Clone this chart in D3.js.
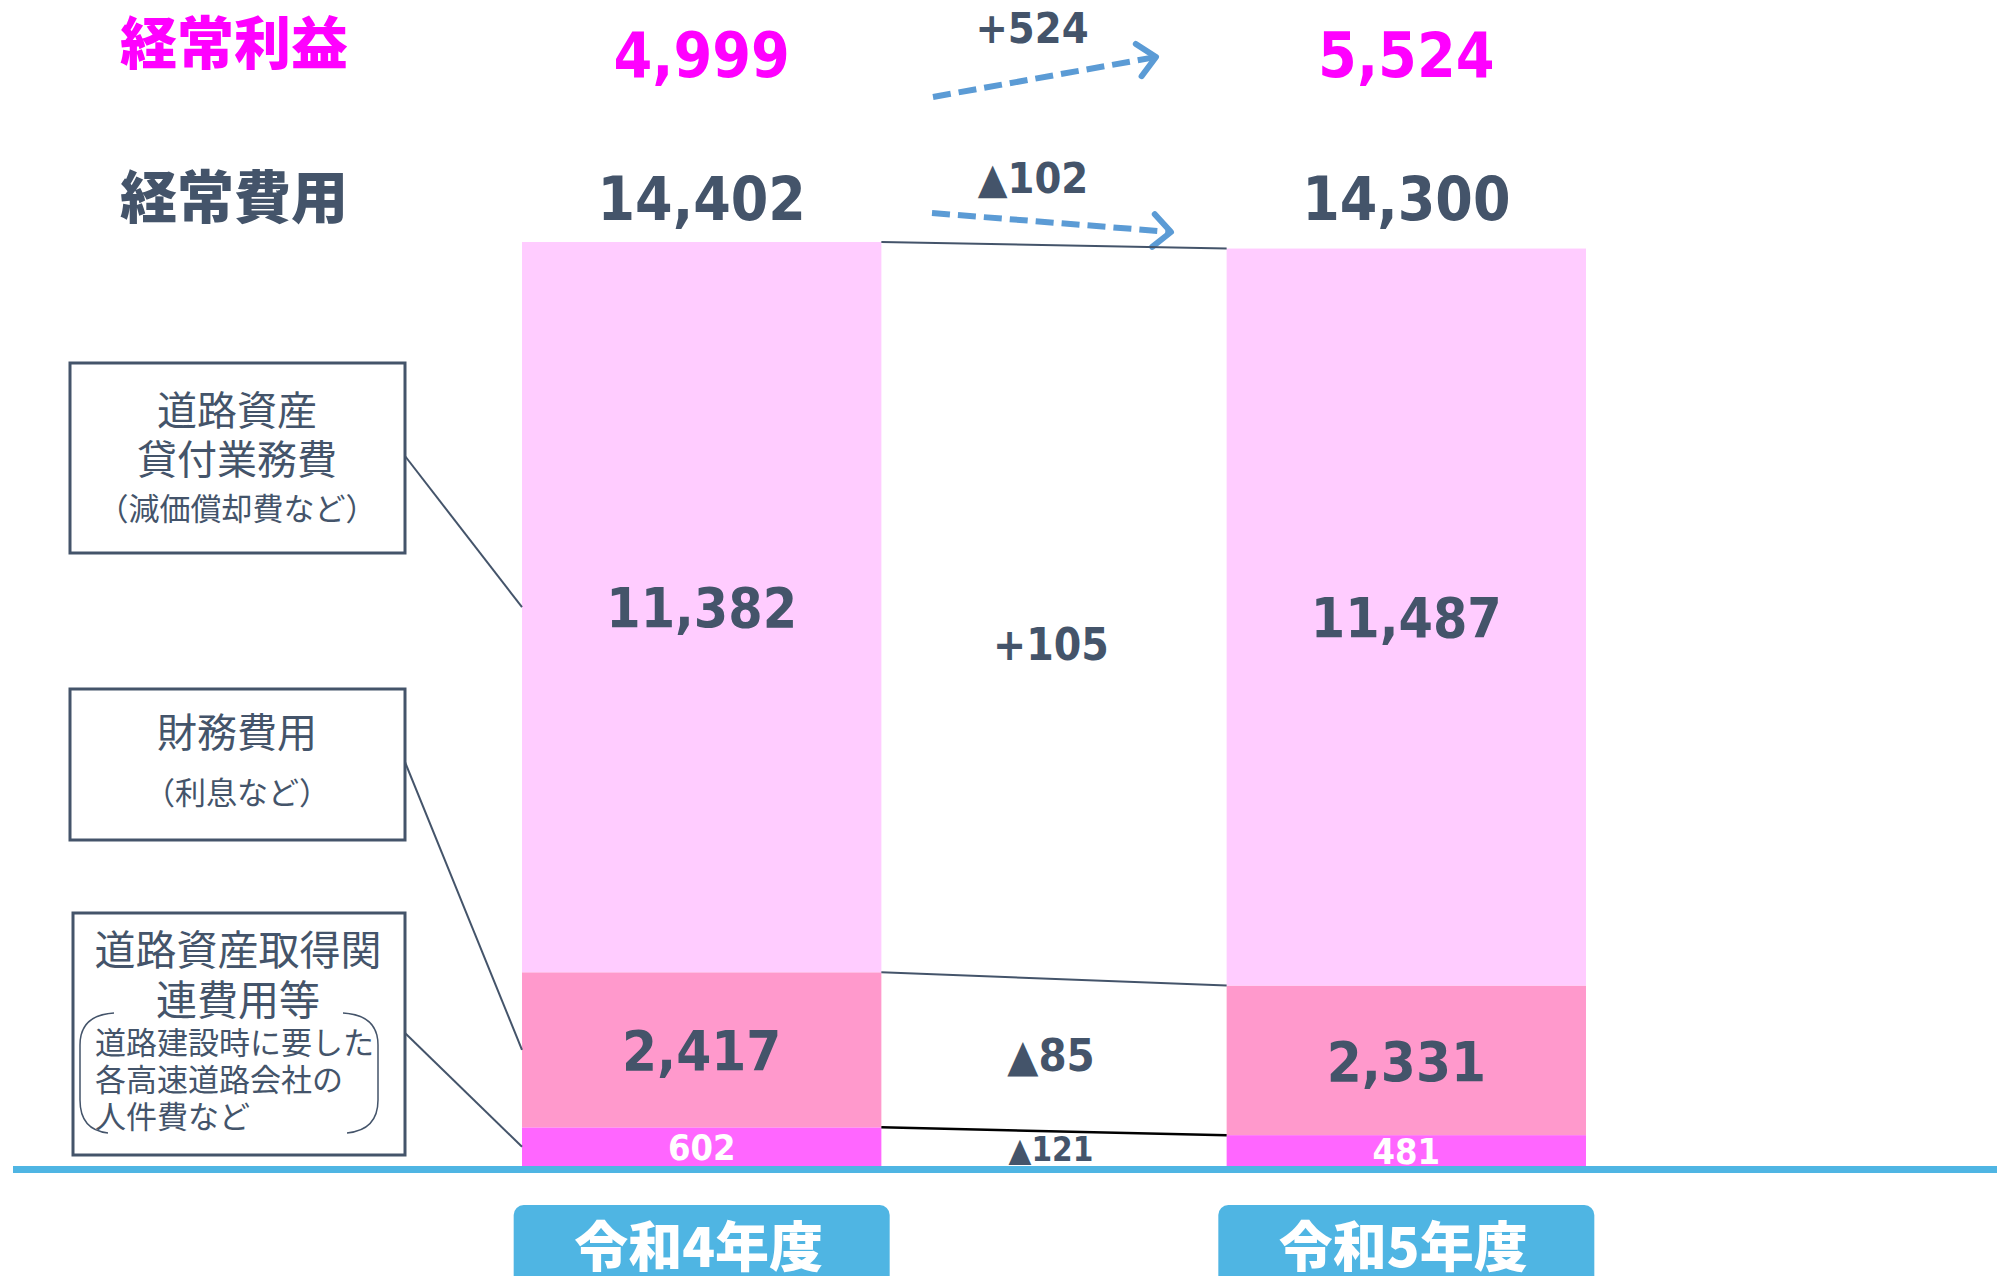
<!DOCTYPE html>
<html lang="ja">
<head>
  <meta charset="UTF-8">
  <title>経常費用の内訳 - D3</title>
  <script src="https://d3js.org/d3.v7.min.js"></script>
  <style>
    body {
      margin: 0;
      background-color: #ffffff;
    }

    .num {
      font-family: "DejaVu Sans Condensed", "DejaVu Sans", sans-serif;
      font-stretch: condensed;
      font-weight: bold;
      text-anchor: middle;
    }

    .jp {
      font-family: "Noto Sans CJK JP", "Noto Sans", sans-serif;
      text-anchor: middle;
      dominant-baseline: central;
    }

    .note {
      fill: #44546A;
    }
  </style>
</head>
<body>
  <script>
    // データ
    var years = ["令和4年度", "令和5年度"];
    var keys = ["acquisition", "financial", "leasing"];   // 下から上へ
    var acquisition = [602, 481];        // 道路資産取得関連費用等
    var financial = [2417, 2331];        // 財務費用
    var leasing = [11382, 11487];        // 道路資産貸付業務費
    var ordinaryExpenses = [14402, 14300];
    var ordinaryProfit = [4999, 5524];
    var segmentChanges = [-121, -85, 105];   // keys と同じ順
    var expenseChange = -102;
    var profitChange = 524;

    var slate = "#44546A",
        magenta = "#FF00FF",
        blue = "#4FB5E3",
        arrowBlue = "#5B9BD5";
    var colors = { acquisition: "#FF66FF", financial: "#FF99CC", leasing: "#FFCCFF" };

    var width = 1997, height = 1276;
    var baseY = 1166, topY = 242;

    var rows = years.map((y, i) => ({
      year: y,
      acquisition: acquisition[i],
      financial: financial[i],
      leasing: leasing[i]
    }));

    var stack = d3.stack().keys(keys)(rows);

    var x = d3.scaleBand().domain(years).range([522, 1586]).paddingInner(0.49).paddingOuter(0);
    var y = d3.scaleLinear()
              .domain([0, d3.max(rows, d => d.acquisition + d.financial + d.leasing)])
              .range([baseY, topY]);

    var fmt = d3.format(",");
    var fmtChange = v => v < 0 ? "▲" + fmt(-v) : "+" + fmt(v);

    var svg = d3.select("body")
                .append("svg")
                .attr("width", width)
                .attr("height", height);

    var cx = i => x(years[i]) + x.bandwidth() / 2;
    var gapX = (x(years[0]) + x.bandwidth() + x(years[1])) / 2;

    // 見出し
    svg.append("text").attr("class", "jp")
       .attr("x", 234).attr("y", 39)
       .attr("font-size", 57).attr("font-weight", 900)
       .attr("fill", magenta)
       .text("経常利益");

    svg.append("text").attr("class", "jp")
       .attr("x", 234).attr("y", 193)
       .attr("font-size", 57).attr("font-weight", 900)
       .attr("fill", slate)
       .text("経常費用");

    // 経常利益・経常費用の数値
    svg.selectAll(".profit")
       .data(ordinaryProfit)
       .enter()
       .append("text")
       .attr("class", "num profit")
       .attr("x", (d, i) => cx(i))
       .attr("y", 77)
       .attr("font-size", 62)
       .attr("fill", magenta)
       .text(d => fmt(d));

    svg.selectAll(".expense")
       .data(ordinaryExpenses)
       .enter()
       .append("text")
       .attr("class", "num expense")
       .attr("x", (d, i) => cx(i))
       .attr("y", 220)
       .attr("font-size", 60)
       .attr("fill", slate)
       .text(d => fmt(d));

    svg.append("text").attr("class", "num")
       .attr("x", 1032).attr("y", 43)
       .attr("font-size", 43).attr("fill", slate)
       .text(fmtChange(profitChange));

    svg.append("text").attr("class", "num")
       .attr("x", 1033).attr("y", 193)
       .attr("font-size", 43).attr("fill", slate)
       .text(fmtChange(expenseChange));

    // 破線の矢印
    function dashedArrow(x1, y1, x2, y2) {
      svg.append("line")
         .attr("x1", x1).attr("y1", y1)
         .attr("x2", x2).attr("y2", y2)
         .attr("stroke", arrowBlue)
         .attr("stroke-width", 6)
         .attr("stroke-dasharray", "18 8");
      var a = Math.atan2(y2 - y1, x2 - x1), len = 24, spread = 0.75;
      svg.append("path")
         .attr("d", `M${x2 - len * Math.cos(a - spread)},${y2 - len * Math.sin(a - spread)}L${x2},${y2}L${x2 - len * Math.cos(a + spread)},${y2 - len * Math.sin(a + spread)}`)
         .attr("fill", "none")
         .attr("stroke", arrowBlue)
         .attr("stroke-width", 6)
         .attr("stroke-linecap", "round")
         .attr("stroke-linejoin", "round");
    }
    dashedArrow(933, 97, 1156, 57);
    dashedArrow(932, 213, 1171, 232);

    // 積み上げ棒
    var layers = svg.selectAll(".layer")
                    .data(stack)
                    .enter()
                    .append("g")
                    .attr("class", "layer")
                    .attr("fill", d => colors[d.key]);

    layers.selectAll("rect")
          .data(d => d)
          .enter()
          .append("rect")
          .attr("x", d => x(d.data.year))
          .attr("width", x.bandwidth())
          .attr("y", d => y(d[1]))
          .attr("height", d => y(d[0]) - y(d[1]));

    // 棒の間の連結線
    stack.forEach(function(layer, k) {
      svg.append("line")
         .attr("x1", x(years[0]) + x.bandwidth())
         .attr("y1", y(layer[0][1]))
         .attr("x2", x(years[1]))
         .attr("y2", y(layer[1][1]))
         .attr("stroke", k === 0 ? "#000000" : slate)
         .attr("stroke-width", k === 0 ? 2.5 : 2);
    });

    // 棒の中の数値
    var labelStyle = {
      acquisition: { size: 36, fill: "#ffffff" },
      financial: { size: 56, fill: slate },
      leasing: { size: 55, fill: slate }
    };

    stack.forEach(function(layer) {
      var st = labelStyle[layer.key];
      svg.selectAll(".lbl-" + layer.key)
         .data(layer)
         .enter()
         .append("text")
         .attr("class", "num lbl-" + layer.key)
         .attr("x", (d, i) => cx(i))
         .attr("y", d => (y(d[0]) + y(d[1])) / 2 + st.size * 0.36)
         .attr("font-size", st.size)
         .attr("fill", st.fill)
         .text(d => fmt(d.data[layer.key]));
    });

    // 増減
    var changeStyle = {
      acquisition: { size: 33, dy: 0 },
      financial: { size: 45, dy: 0 },
      leasing: { size: 44, dy: 32 }
    };
    stack.forEach(function(layer, k) {
      var st = changeStyle[layer.key];
      var mid = d3.mean(layer, d => (y(d[0]) + y(d[1])) / 2);
      svg.append("text")
         .attr("class", "num")
         .attr("x", gapX - 3)
         .attr("y", mid + st.dy + st.size * 0.36)
         .attr("font-size", st.size)
         .attr("fill", slate)
         .text(fmtChange(segmentChanges[k]));
    });

    // 基準線
    svg.append("line")
       .attr("x1", 13).attr("x2", width)
       .attr("y1", baseY + 3.5).attr("y2", baseY + 3.5)
       .attr("stroke", blue)
       .attr("stroke-width", 7);

    // 年度ラベル
    years.forEach(function(yr, i) {
      svg.append("rect")
         .attr("x", cx(i) - 188)
         .attr("y", 1205)
         .attr("width", 376)
         .attr("height", 90)
         .attr("rx", 10)
         .attr("fill", blue);
      svg.append("text")
         .attr("class", "jp")
         .attr("x", cx(i) - 3)
         .attr("y", 1243)
         .attr("font-size", 54)
         .attr("font-weight", 900)
         .attr("fill", "#ffffff")
         .text(yr);
    });

    // 注記ボックス
    var bar0Left = x(years[0]);
    var segMid = key => {
      var layer = stack.find(l => l.key === key);
      return (y(layer[0][0]) + y(layer[0][1])) / 2;
    };

    function noteBox(bx, by, bw, bh, lines, anchorY, key) {
      svg.append("rect")
         .attr("x", bx).attr("y", by)
         .attr("width", bw).attr("height", bh)
         .attr("fill", "none")
         .attr("stroke", slate)
         .attr("stroke-width", 3);
      lines.forEach(function(l) {
        svg.append("text")
           .attr("class", "jp note")
           .attr("x", l.x)
           .attr("y", l.y)
           .attr("font-size", l.size)
           .style("text-anchor", l.anchor || "middle")
           .text(l.text);
      });
      svg.append("line")
         .attr("x1", bx + bw).attr("y1", anchorY)
         .attr("x2", bar0Left).attr("y2", segMid(key))
         .attr("stroke", slate)
         .attr("stroke-width", 2);
    }

    noteBox(70, 363, 335, 190, [
      { text: "道路資産", x: 237, y: 408, size: 40 },
      { text: "貸付業務費", x: 237, y: 457, size: 40 },
      { text: "（減価償却費など）", x: 237, y: 506, size: 31 }
    ], 456, "leasing");

    noteBox(70, 689, 335, 151, [
      { text: "財務費用", x: 237, y: 730, size: 40 },
      { text: "（利息など）", x: 237, y: 790, size: 31 }
    ], 762, "financial");

    noteBox(73, 913, 332, 242, [
      { text: "道路資産取得関", x: 238, y: 947, size: 41 },
      { text: "連費用等", x: 238, y: 997, size: 41 },
      { text: "道路建設時に要した", x: 95, y: 1040, size: 31, anchor: "start" },
      { text: "各高速道路会社の", x: 95, y: 1077, size: 31, anchor: "start" },
      { text: "人件費など", x: 95, y: 1114, size: 31, anchor: "start" }
    ], 1033, "acquisition");

    // 大かっこ
    svg.append("path")
       .attr("d", "M114,1013 Q80,1015 80,1045 L80,1100 Q80,1130 108,1133")
       .attr("fill", "none").attr("stroke", slate).attr("stroke-width", 1.5);
    svg.append("path")
       .attr("d", "M343,1013 Q378,1015 378,1045 L378,1100 Q378,1130 347,1133")
       .attr("fill", "none").attr("stroke", slate).attr("stroke-width", 1.5);
  </script>
</body>
</html>
